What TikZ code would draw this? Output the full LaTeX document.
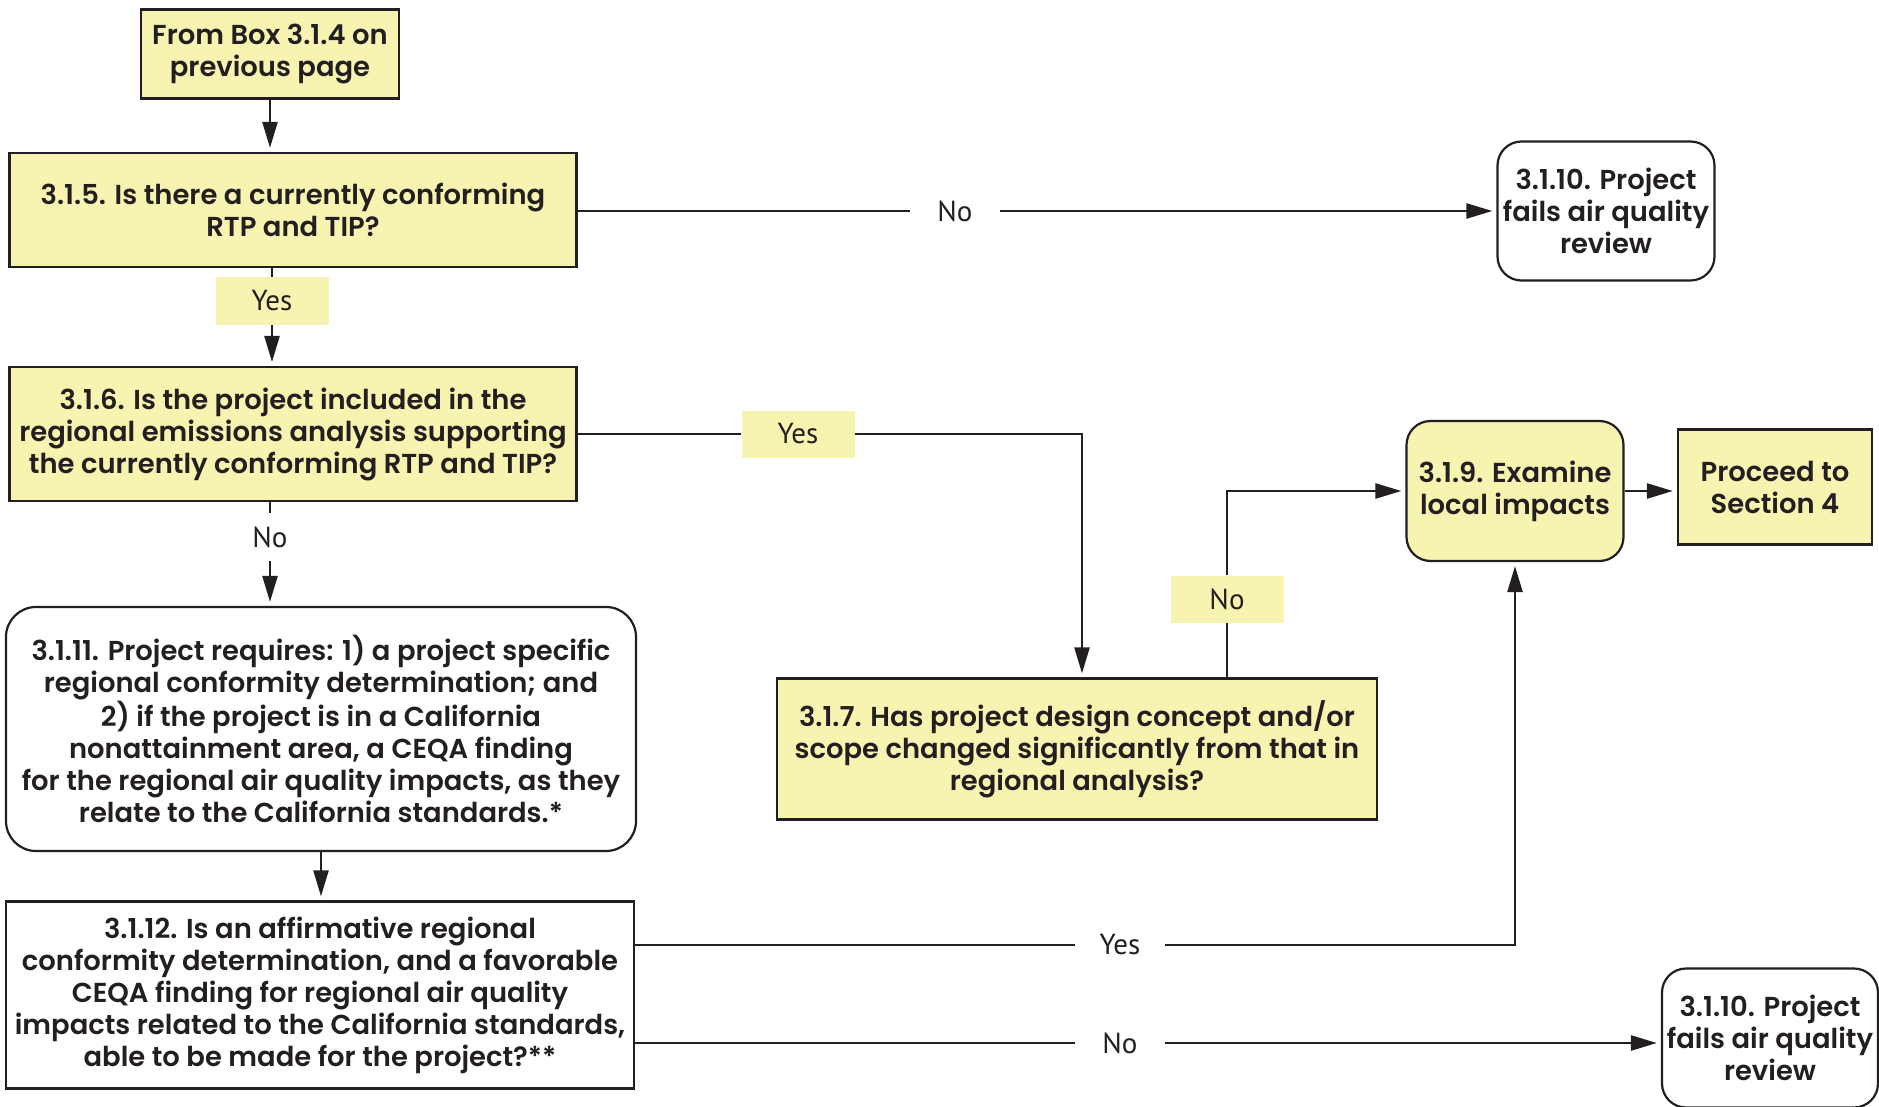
\documentclass[tikz,border=0pt]{standalone}
\usepackage{fontspec}
\setmainfont{Poppins}[UprightFont=* Medium, BoldFont=* SemiBold]
\newfontfamily\labelfont{PT Sans}
\usetikzlibrary{arrows.meta}

\definecolor{boxyellow}{HTML}{F7F3B0}
\definecolor{linedark}{HTML}{231F20}

\tikzset{
  base/.style={draw=linedark,line width=1.1pt,align=center,inner sep=2pt,
    font=\fontsize{13.7}{16}\selectfont\bfseries,text=linedark},
  ybox/.style={base,fill=boxyellow},
  wbox/.style={base,fill=white},
  yround/.style={ybox,rounded corners=12pt},
  wround/.style={wbox,rounded corners=12pt},
  ylabel/.style={fill=boxyellow,minimum width=56.5pt,minimum height=23.5pt,
    font=\labelfont\fontsize{14.5}{16}\selectfont,text=linedark},
  tlabel/.style={ylabel,fill=white},
  conn/.style={draw=linedark,line width=1.2pt},
  arr/.style={conn,-{Triangle[length=13pt,width=7.5pt]},shorten >=2pt}
}

\begin{document}
\begin{tikzpicture}[x=0.5pt,y=-0.5pt]
\useasboundingbox (0,0) rectangle (1879,1107);

% boxes
\node (from) at (270,54) [ybox,minimum width=129pt,minimum height=44.5pt] {From Box 3.1.4 on\\previous page};
\node (q315) at (293,210) [ybox,minimum width=283.5pt,minimum height=57pt] {3.1.5. Is there a currently conforming\\RTP and TIP?};
\node (q316) at (293,434) [ybox,minimum width=283.5pt,minimum height=67pt] {3.1.6. Is the project included in the\\regional emissions analysis supporting\\the currently conforming RTP and TIP?};
\node (r3111) at (321,729) [wround,rounded corners=15pt,minimum width=315pt,minimum height=122pt] {3.1.11. Project requires: 1) a project specific\\regional conformity determination; and\\2) if the project is in a California\\nonattainment area, a CEQA finding\\for the regional air quality impacts, as they\\relate to the California standards.*};
\node (q3112) at (320,995) [wbox,minimum width=314pt,minimum height=93.5pt] {3.1.12. Is an affirmative regional\\conformity determination, and a favorable\\CEQA finding for regional air quality\\impacts related to the California standards,\\able to be made for the project?**};
\node (q317) at (1077,749) [ybox,minimum width=300pt,minimum height=70.5pt] {3.1.7. Has project design concept and/or\\scope changed significantly from that in\\regional analysis?};
\node (r319) at (1515,491) [yround,minimum width=108.5pt,minimum height=70pt] {3.1.9. Examine\\local impacts};
\node (sec4) at (1775,487) [ybox,minimum width=97pt,minimum height=57.5pt] {Proceed to\\Section 4};
\node (fail1) at (1606,211) [wround,minimum width=108.5pt,minimum height=69.5pt] {3.1.10. Project\\fails air quality\\review};
\node (fail2) at (1770,1038) [wround,minimum width=108pt,minimum height=69.5pt] {3.1.10. Project\\fails air quality\\review};

% labels
\node (yes1) at (272,301) [ylabel] {Yes};
\node (no1) at (270,537) [tlabel] {No};
\node (yes2) at (798,434) [ylabel] {Yes};
\node (no2) at (1227,599) [ylabel] {No};
\node (no3) at (955,211) [tlabel,minimum width=45pt] {No};
\node (yes3) at (1120,945) [tlabel,minimum width=45pt] {Yes};
\node (no4) at (1120,1043) [tlabel,minimum width=45pt] {No};

% connectors
\draw [arr] (from.south) -- (from.south |- q315.north);
\draw [conn] (q315.south -| yes1) -- (yes1);
\draw [arr] (yes1) -- (yes1 |- q316.north);
\draw [conn] (q316.south -| no1) -- (no1);
\draw [arr] (no1) -- (no1 |- r3111.north);
\draw [arr] (r3111.south) -- (r3111.south |- q3112.north);
\draw [conn] (q315.east |- no3) -- (no3);
\draw [arr] (no3) -- (no3 -| fail1.west);
\draw [conn] (q316.east) -- (yes2);
\draw [arr] (yes2) -| ([xshift=2.5pt]q317.north);
\draw [conn] (q317.north -| no2) -- (no2);
\draw [arr] (no2) |- (r319.west);
\draw [arr] (r319.east) -- (r319.east -| sec4.west);
\draw [conn] (q3112.east |- yes3) -- (yes3);
\draw [arr] (yes3) -| (r319.south);
\draw [conn] (q3112.east |- no4) -- (no4);
\draw [arr] (no4) -- (no4 -| fail2.west);
\end{tikzpicture}
\end{document}
